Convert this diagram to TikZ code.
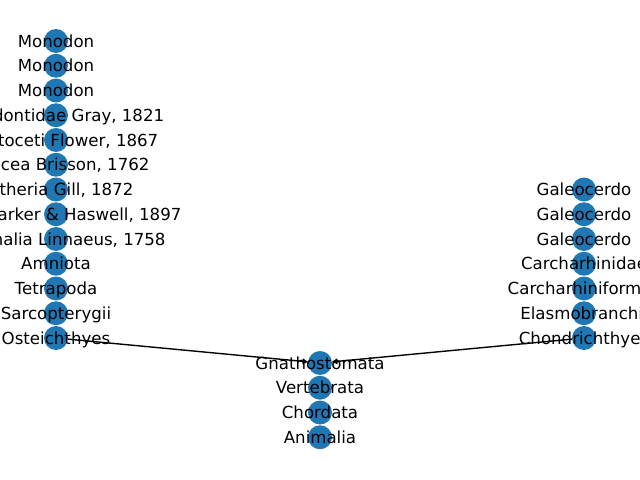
\documentclass[tikz,border=0pt]{standalone}
\usepackage{fontspec}
\setmainfont{DejaVu Sans}
\usetikzlibrary{arrows.meta}
\definecolor{nodeblue}{HTML}{1F77B4}
\tikzset{
  taxon/.style={circle,fill=nodeblue,inner sep=0pt,outer sep=0pt,minimum size=17.3pt},
  taxname/.style={font=\fontsize{12}{14}\selectfont,inner sep=0pt,text height=8.75pt,text depth=0pt},
  link/.style={-{Triangle[length=4pt,width=4pt]},line width=1pt,black}
}
\begin{document}
\begin{tikzpicture}[x=0.01in,y=-0.01in]
		\useasboundingbox (0,0) rectangle (640,480);
		\clip (0,0) rectangle (640,480);
		% circles
		\foreach \i in {0,...,12} \node[taxon] (l\i) at (56,41+24.75*\i) {};
		\foreach \i in {0,...,6} \node[taxon] (r\i) at (584,189.5+24.75*\i) {};
		\foreach \i in {0,...,3} \node[taxon] (m\i) at (320,363+24.75*\i) {};
		\draw[link] (l12) -- (m0);
		\draw[link] (r6) -- (m0);
		% names
		\foreach \name [count=\i from 0] in {Monodon,Monodon,Monodon,{Monodontidae Gray, 1821},{Odontoceti Flower, 1867},{Cetacea Brisson, 1762},{Eutheria Gill, 1872},{Theria Parker \& Haswell, 1897},{Mammalia Linnaeus, 1758},Amniota,Tetrapoda,Sarcopterygii,Osteichthyes}
		\node[taxname] (tl\i) at (l\i) {\name};
		\foreach \name [count=\i from 0] in {Galeocerdo,Galeocerdo,Galeocerdo,Carcharhinidae,Carcharhiniformes,Elasmobranchii,Chondrichthyes}
		\node[taxname] (tr\i) at (r\i) {\name};
		\foreach \name [count=\i from 0] in {Gnathostomata,Vertebrata,Chordata,Animalia}
		\node[taxname] (tm\i) at (m\i) {\name};
\end{tikzpicture}
\end{document}
